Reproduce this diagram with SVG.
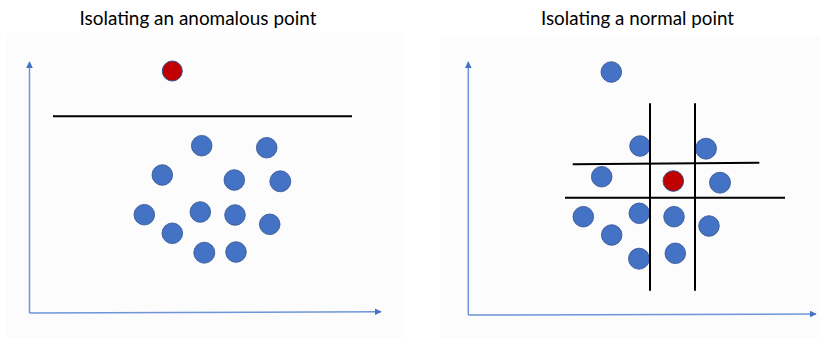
<svg xmlns="http://www.w3.org/2000/svg" width="820" height="338" viewBox="0 0 820 338">
<style>
.title{font-family:Lato,"Open Sans","Liberation Sans",sans-serif;font-size:18.5px;fill:#000;text-anchor:middle}
.panel{fill:#fcfcfc}
.axis{stroke:#6f95d8;stroke-width:1.5;fill:none}
.cut{stroke:#000;stroke-width:2;fill:none}
.pt{fill:#4472c4;stroke:#2f528f;stroke-width:0.8}
.anom{fill:#c00000;stroke:#2f528f;stroke-width:1}
</style>
<defs>
<marker id="arr" viewBox="0 0 10 10" refX="9" refY="5" markerWidth="4.5" markerHeight="4.5" orient="auto" markerUnits="strokeWidth">
<path d="M0,0 L10,5 L0,10 z" fill="#4472c4"/>
</marker>
</defs>
<rect width="820" height="338" fill="#ffffff"/>
<g id="panel-left">
<rect class="panel" x="7" y="33" width="397" height="305"/>
<text class="title" x="198" y="25" textLength="237" lengthAdjust="spacingAndGlyphs">Isolating an anomalous point</text>
</g>
<g id="panel-right">
<rect class="panel" x="440" y="37" width="380" height="301"/>
<text class="title" x="637.5" y="25" textLength="193" lengthAdjust="spacingAndGlyphs">Isolating a normal point</text>
</g>
<g id="connectors">
<line class="axis" x1="29.5" y1="313" x2="29.5" y2="62" marker-end="url(#arr)"/>
<line class="axis" x1="29.5" y1="313" x2="381" y2="311.7" marker-end="url(#arr)"/>
<line class="axis" x1="468.3" y1="315" x2="468.3" y2="62" marker-end="url(#arr)"/>
<line class="axis" x1="468.3" y1="315" x2="816" y2="314" marker-end="url(#arr)"/>
</g>
<g id="points-left">
<circle class="anom" cx="172.3" cy="71" r="10"/>
<circle class="pt" cx="201.7" cy="145.7" r="10.3"/>
<circle class="pt" cx="266.7" cy="147.7" r="10.3"/>
<circle class="pt" cx="162.3" cy="175" r="10.3"/>
<circle class="pt" cx="234.3" cy="180" r="10.3"/>
<circle class="pt" cx="280.3" cy="181.3" r="10.5"/>
<circle class="pt" cx="144.3" cy="214.7" r="10.3"/>
<circle class="pt" cx="200.3" cy="212" r="10.3"/>
<circle class="pt" cx="235" cy="215" r="10.3"/>
<circle class="pt" cx="269.7" cy="224.3" r="10.3"/>
<circle class="pt" cx="172.3" cy="233.3" r="10.3"/>
<circle class="pt" cx="204.3" cy="252.7" r="10.5"/>
<circle class="pt" cx="236" cy="252" r="10.3"/>
</g>
<g id="cut-left">
<line class="cut" x1="53" y1="116.3" x2="352" y2="116.3"/>
</g>
<g id="points-right">
<circle class="pt" cx="611.3" cy="72" r="10.3"/>
<circle class="pt" cx="640" cy="146" r="10.3"/>
<circle class="pt" cx="706" cy="148.7" r="10.5"/>
<circle class="pt" cx="601.7" cy="176.7" r="10.3"/>
<circle class="anom" cx="673.3" cy="181" r="10.3"/>
<circle class="pt" cx="720" cy="182.7" r="10.5"/>
<circle class="pt" cx="583.3" cy="216.7" r="10.3"/>
<circle class="pt" cx="639.3" cy="213.3" r="10.3"/>
<circle class="pt" cx="674" cy="216.7" r="10.3"/>
<circle class="pt" cx="709" cy="226" r="10.3"/>
<circle class="pt" cx="611.7" cy="235" r="10.3"/>
<circle class="pt" cx="639" cy="258.7" r="10.5"/>
<circle class="pt" cx="675.3" cy="253.3" r="10.3"/>
</g>
<g id="cuts-right">
<line class="cut" x1="650" y1="103.3" x2="650" y2="290.7"/>
<line class="cut" x1="695" y1="103.3" x2="695" y2="290.7"/>
<line class="cut" x1="572.7" y1="164.3" x2="759.3" y2="162.7"/>
<line class="cut" x1="565" y1="197.7" x2="785" y2="197.7"/>
</g>
</svg>
